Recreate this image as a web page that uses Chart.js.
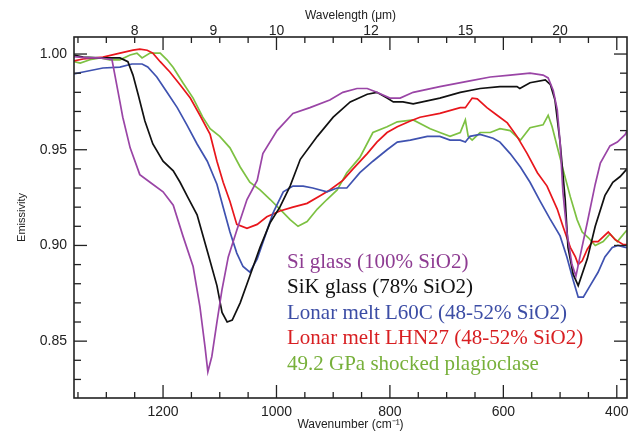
<!DOCTYPE html>
<html>
<head>
<meta charset="utf-8">
<script src="https://cdn.jsdelivr.net/npm/chart.js@4.4.1/dist/chart.umd.min.js"></script>
<style>
  html, body { margin: 0; padding: 0; background: #fff; }
  #wrap { width: 635px; height: 432px; }
</style>
</head>
<body>
<div id="wrap"><canvas id="emisChart" width="635" height="432"></canvas></div>
<script>
// wavenumber (cm-1) / emissivity pairs
const siWn = [1357,1334,1311,1290,1276,1271,1258,1241,1223,1200,1182,1165,1147,1135,1126,1121,1114,1105,1096,1085,1070,1052,1034,1024,999,971,941,906,883,858,840,823,800,782,759,712,659,623,588,553,530,521,512,505,500,495,488,479,472,465,452,438,429,412,399,385,382];
const siEm = [0.9986,0.998,0.998,0.997,0.975,0.967,0.951,0.937,0.933,0.928,0.921,0.905,0.889,0.868,0.847,0.834,0.842,0.860,0.877,0.894,0.908,0.924,0.934,0.948,0.960,0.969,0.972,0.976,0.980,0.982,0.982,0.980,0.977,0.977,0.980,0.983,0.986,0.988,0.989,0.990,0.989,0.9875,0.981,0.971,0.954,0.928,0.907,0.890,0.884,0.894,0.912,0.932,0.943,0.952,0.954,0.958,0.960];

const sikWn = [1357,1341,1311,1276,1262,1253,1244,1232,1218,1200,1182,1170,1156,1140,1121,1105,1096,1087,1078,1064,1047,1029,1011,994,976,958,928,900,870,840,823,805,794,777,759,712,676,641,606,576,571,553,526,517,509,500,491,486,477,468,452,438,421,407,394,382];
const sikEm = [0.9995,0.9984,0.998,0.998,0.996,0.989,0.979,0.965,0.953,0.944,0.939,0.933,0.925,0.916,0.896,0.879,0.865,0.860,0.861,0.870,0.884,0.899,0.912,0.920,0.931,0.945,0.957,0.967,0.975,0.979,0.980,0.977,0.975,0.975,0.974,0.977,0.980,0.982,0.983,0.983,0.982,0.985,0.9865,0.984,0.976,0.954,0.924,0.899,0.885,0.879,0.893,0.910,0.926,0.933,0.936,0.940];

const l60cWn = [1357,1341,1306,1276,1255,1237,1227,1211,1193,1175,1158,1140,1122,1105,1094,1082,1070,1059,1047,1034,1020,1006,988,971,953,936,911,893,876,853,830,805,787,764,734,712,694,676,667,659,641,618,606,588,570,553,535,518,500,488,477,468,459,447,433,421,408,398,385,382];
const l60cEm = [0.9896,0.9906,0.9927,0.9932,0.9948,0.9948,0.9932,0.988,0.980,0.972,0.963,0.953,0.944,0.932,0.920,0.907,0.896,0.889,0.886,0.893,0.905,0.917,0.928,0.931,0.931,0.930,0.928,0.930,0.930,0.938,0.944,0.950,0.954,0.955,0.957,0.957,0.955,0.955,0.954,0.957,0.958,0.956,0.954,0.948,0.941,0.933,0.923,0.914,0.905,0.894,0.882,0.873,0.873,0.879,0.886,0.894,0.899,0.900,0.899,0.899];

const lhnWn = [1357,1341,1306,1276,1253,1241,1228,1218,1205,1188,1170,1152,1135,1117,1105,1094,1082,1070,1052,1034,1017,994,971,946,923,906,883,865,840,823,805,787,764,747,712,676,667,655,646,629,611,593,576,558,540,523,505,495,482,473,468,461,452,443,433,415,403,389,382];
const lhnEm = [0.9964,0.9974,0.9984,1.0005,1.002,1.0026,1.002,1.0005,0.996,0.9906,0.984,0.977,0.968,0.958,0.944,0.933,0.923,0.911,0.909,0.911,0.915,0.918,0.920,0.922,0.926,0.929,0.934,0.940,0.948,0.954,0.959,0.962,0.965,0.967,0.969,0.972,0.972,0.977,0.9766,0.972,0.968,0.964,0.957,0.948,0.938,0.931,0.919,0.910,0.899,0.894,0.890,0.892,0.898,0.902,0.902,0.907,0.903,0.9005,0.9005];

const plagWn = [1357,1346,1329,1311,1294,1276,1258,1246,1237,1223,1205,1193,1182,1165,1147,1130,1117,1100,1082,1064,1047,1029,1011,994,976,962,946,928,911,893,876,853,830,805,787,759,729,712,694,676,667,662,655,641,623,606,588,570,553,530,521,514,505,495,482,470,461,450,438,424,412,399,385,382];
const plagEm = [0.996,0.9953,0.997,0.998,0.997,0.997,0.9995,1.0005,0.998,1.0005,1.0005,0.997,0.993,0.985,0.977,0.967,0.961,0.957,0.951,0.941,0.933,0.929,0.924,0.919,0.9135,0.910,0.9125,0.919,0.924,0.929,0.938,0.946,0.959,0.962,0.9646,0.9656,0.961,0.959,0.957,0.959,0.9656,0.957,0.955,0.959,0.959,0.961,0.960,0.955,0.9615,0.963,0.968,0.962,0.9516,0.940,0.9255,0.9135,0.907,0.904,0.900,0.902,0.906,0.902,0.907,0.908];

const seriesNames = [
  'Si glass (100% SiO2)',
  'SiK glass (78% SiO2)',
  'Lonar melt L60C (48-52% SiO2)',
  'Lonar melt LHN27 (48-52% SiO2)',
  '49.2 GPa shocked plagioclase'
];
const lineColors = ['#9a45a6', '#111111', '#3f52b0', '#e8161c', '#7dc142'];
const textColors = ['#8e3c92', '#111111', '#3c4da5', '#d81f22', '#77b03a'];

const wnTicks = [1200, 1000, 800, 600, 400];
const emTicks = [0.85, 0.90, 0.95, 1.00];
const umTicks = [8, 9, 10, 12, 15, 20];

function pairs(xs, ys) {
  return xs.map((v, i) => ({ x: v, y: ys[i] }));
}
const allWn = [siWn, sikWn, l60cWn, lhnWn, plagWn];
const allEm = [siEm, sikEm, l60cEm, lhnEm, plagEm];

const frameTicks = {
  id: 'frameTicks',
  afterDatasetsDraw(chart) {
    const { ctx, chartArea: a, scales: { x, y } } = chart;
    ctx.save();
    ctx.strokeStyle = '#222';
    ctx.lineWidth = 1.3;
    const seg = (x1, y1, x2, y2) => {
      ctx.beginPath(); ctx.moveTo(x1, y1); ctx.lineTo(x2, y2); ctx.stroke();
    };
    for (let v = 400; v <= 1350; v += 50) {
      const px = x.getPixelForValue(v);
      const len = v % 200 === 0 ? 13 : 6;
      seg(px, a.bottom, px, a.bottom - len);
      seg(px, a.top, px, a.top + len);
    }
    for (let k = 83; k <= 100; k++) {
      const py = y.getPixelForValue(k / 100);
      const len = k % 5 === 0 ? 13 : 7;
      seg(a.left, py, a.left + len, py);
      seg(a.right, py, a.right - len, py);
    }
    ctx.lineWidth = 1.6;
    ctx.strokeRect(a.left, a.top, a.right - a.left, a.bottom - a.top);
    ctx.restore();
  }
};

const legendText = {
  id: 'legendText',
  afterDraw(chart) {
    const ctx = chart.ctx;
    ctx.save();
    ctx.font = '21px "Liberation Serif", "Times New Roman", serif';
    ctx.textBaseline = 'middle';
    ctx.textAlign = 'left';
    chart.data.datasets.forEach((ds, i) => {
      ctx.fillStyle = textColors[i];
      ctx.fillText(ds.label, 287, 262 + i * 25.5);
    });
    ctx.restore();
  }
};

const tickFont = { family: '"Liberation Sans", Arial, sans-serif', size: 14 };
const titleFont = { family: '"Liberation Sans", Arial, sans-serif', size: 12 };

const ctx = document.getElementById('emisChart');
const emisChart = new Chart(ctx, {
  type: 'line',
  data: {
    datasets: seriesNames.map((name, i) => ({
      label: name,
      data: pairs(allWn[i], allEm[i]),
      borderColor: lineColors[i],
      borderWidth: 1.7,
      pointRadius: 0,
      tension: 0,
      fill: false
    }))
  },
  options: {
    responsive: false,
    animation: false,
    layout: { padding: 0 },
    plugins: { legend: { display: false }, tooltip: { enabled: false } },
    scales: {
      x: {
        type: 'linear', position: 'bottom', reverse: true, min: 382, max: 1357,
        grid: { display: false, drawTicks: false },
        border: { display: false },
        afterBuildTicks: s => { s.ticks = wnTicks.map(v => ({ value: v })); },
        afterFit: s => { s.height = 34; },
        ticks: { font: tickFont, color: '#222', padding: 6, maxRotation: 0, callback: v => String(v) },
        title: { display: true, text: 'Wavenumber (cm⁻¹)', font: titleFont, color: '#222', padding: { top: 0, bottom: 0 } }
      },
      x2: {
        type: 'linear', position: 'top', reverse: true, min: 382, max: 1357,
        grid: { display: false, drawTicks: false },
        border: { display: false },
        afterBuildTicks: s => { s.ticks = umTicks.map(u => ({ value: 10000 / u })); },
        afterFit: s => { s.height = 37; },
        ticks: { font: tickFont, color: '#222', padding: -3, maxRotation: 0, callback: v => String(Math.round(10000 / v)) },
        title: { display: true, text: 'Wavelength (μm)', font: titleFont, color: '#222', padding: { top: 8, bottom: 0 } }
      },
      y: {
        type: 'linear', position: 'left', min: 0.8203, max: 1.0089,
        grid: { display: false, drawTicks: false },
        border: { display: false },
        afterBuildTicks: s => { s.ticks = emTicks.map(v => ({ value: v })); },
        afterFit: s => { s.width = 74; },
        ticks: { font: tickFont, color: '#222', padding: 7, callback: v => v.toFixed(2) },
        title: { display: true, text: 'Emissivity', font: { family: '"Liberation Sans", Arial, sans-serif', size: 11 }, color: '#222', padding: { top: 15, bottom: 0 } }
      },
      y2: {
        type: 'linear', position: 'right', min: 0.8203, max: 1.0089,
        grid: { display: false, drawTicks: false },
        border: { display: false },
        ticks: { display: false },
        afterFit: s => { s.width = 8; }
      }
    }
  },
  plugins: [frameTicks, legendText]
});
</script>
</body>
</html>
